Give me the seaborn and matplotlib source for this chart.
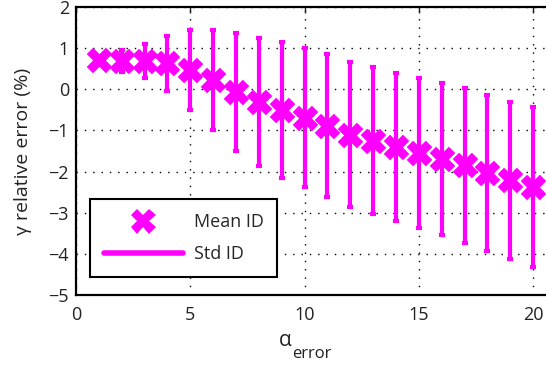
import numpy as np
import seaborn as sns
import matplotlib
matplotlib.use("Agg")
import matplotlib.pyplot as plt
from matplotlib.lines import Line2D

# datos
alpha_error = [1, 2, 3, 4, 5, 6, 7, 8, 9, 10, 11, 12, 13, 14, 15, 16, 17, 18, 19, 20]
mean_id = [0.70, 0.69, 0.69, 0.63, 0.47, 0.23, -0.06, -0.31, -0.50, -0.69,
           -0.89, -1.10, -1.25, -1.40, -1.55, -1.70, -1.85, -2.03, -2.21, -2.38]
std_id = [0.10, 0.26, 0.41, 0.67, 0.97, 1.21, 1.44, 1.56, 1.65, 1.69,
          1.74, 1.77, 1.79, 1.80, 1.82, 1.85, 1.88, 1.89, 1.91, 1.94]

x_ticks = [0, 5, 10, 15, 20]
y_ticks = [-5, -4, -3, -2, -1, 0, 1, 2]

color = '#ff00ff'
txt_color = '#222222'

sns.set_style("white")
plt.rcParams['font.family'] = ['Open Sans', 'DejaVu Sans']

fig = plt.figure(figsize=(5.46, 3.66), dpi=100)
# el eje se sale por la derecha (imagen recortada)
ax = fig.add_axes([76 / 546, 1 - 295 / 366, 480 / 546, 288 / 366])

# barras de desviacion
ax.errorbar(alpha_error, mean_id, yerr=std_id, fmt='none', ecolor=color,
            elinewidth=3, capsize=2.5, capthick=3, zorder=2)

# medias
sns.scatterplot(x=alpha_error, y=mean_id, marker='X', s=340, color=color,
                edgecolor=color, linewidth=0, ax=ax, zorder=3, legend=False)

ax.set_xlim(0, 21)
ax.set_ylim(-5, 2)
ax.set_xticks(x_ticks)
ax.set_yticks(y_ticks)

ax.grid(True, color='black', linestyle=(0, (1, 5)), linewidth=1)
ax.tick_params(direction='in', length=4, width=1, top=True, right=True,
               labelsize=13, colors=txt_color, pad=5)
ax.tick_params(axis='x', pad=8)
for s in ax.spines.values():
    s.set_linewidth(1.6)
    s.set_color('black')

# etiqueta x con subindice bajo (estilo matlab)
fig.text(285 / 546, 1 - 340 / 366, 'α', fontsize=15, color=txt_color, ha='center', va='center')
fig.text(292 / 546, 1 - 354 / 366, 'error', fontsize=12, color=txt_color, ha='left', va='center')
ax.set_ylabel('γ relative error (%)', fontsize=14, color=txt_color, labelpad=12)

handles = [
    Line2D([], [], marker='X', markersize=18, color=color, linestyle='none', markeredgewidth=0),
    Line2D([], [], color=color, linewidth=4),
]
leg = ax.legend(handles, ['Mean ID', 'Std ID'], loc='lower left',
                bbox_to_anchor=((90 - 76) / 480, (295 - 277) / 288), borderaxespad=0,
                fontsize=13, frameon=True, fancybox=False, edgecolor='black',
                handlelength=4.4, handletextpad=0.6, borderpad=0.75,
                labelspacing=0.8)
leg.get_frame().set_linewidth(1.5)
leg.get_frame().set_alpha(1)

plt.savefig('out.png', dpi=100)
